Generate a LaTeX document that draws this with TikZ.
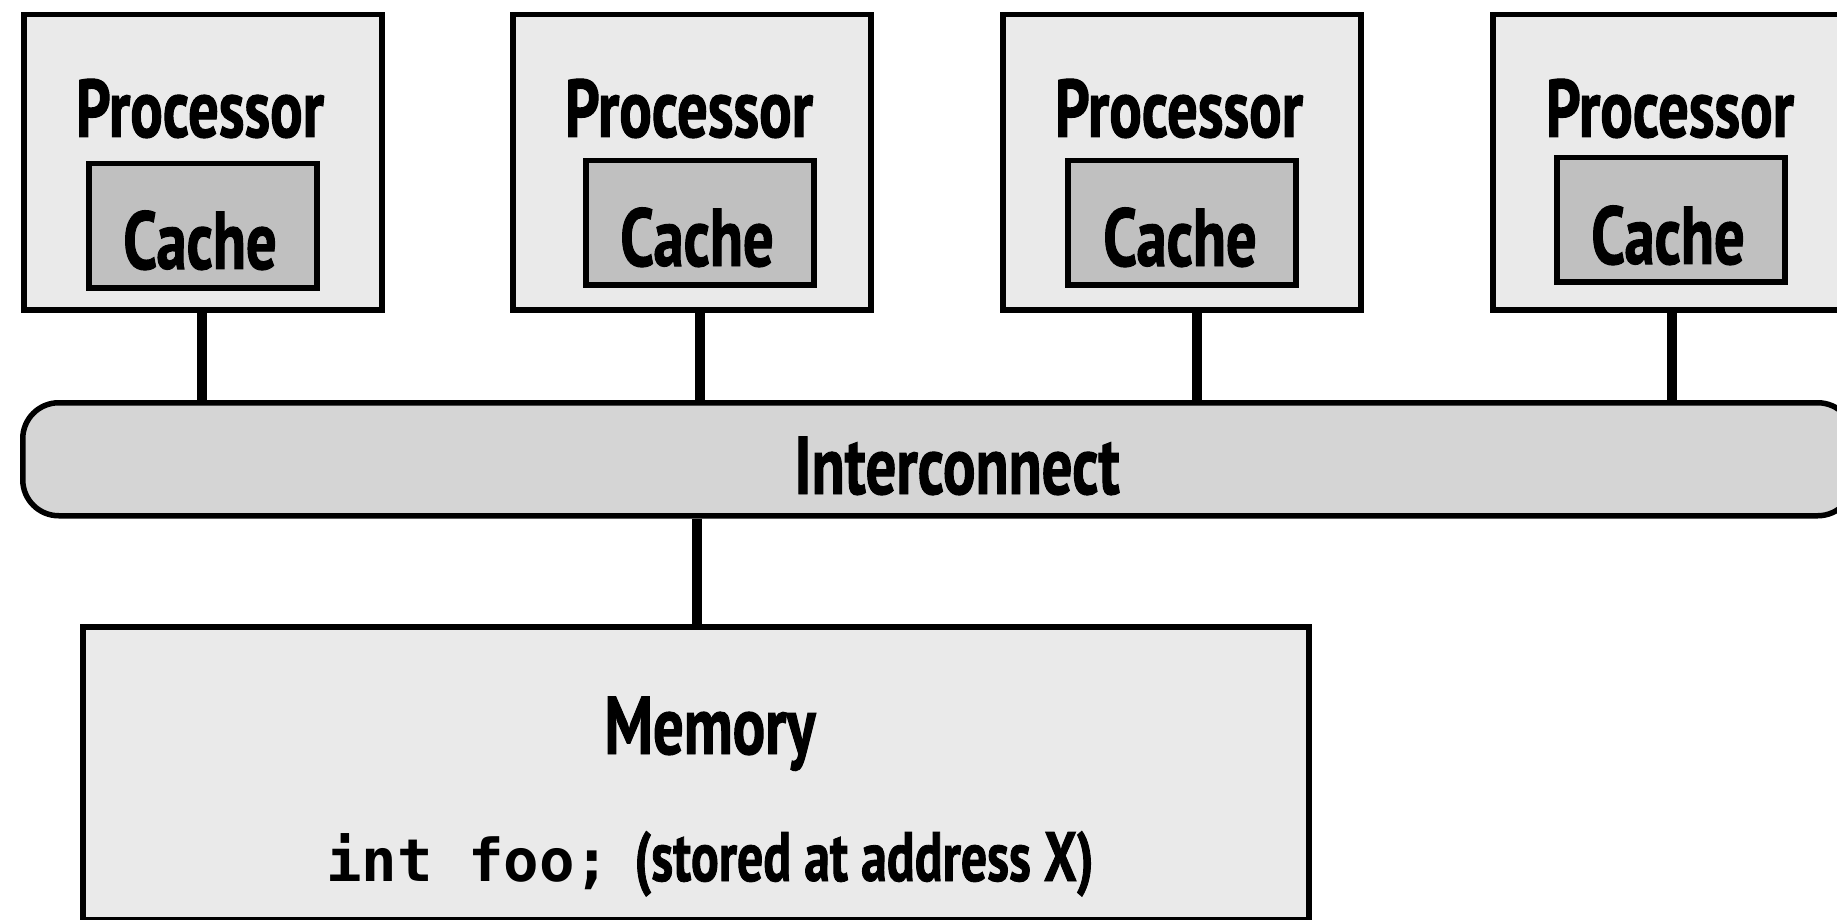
\documentclass[tikz,border=0pt]{standalone}
\usepackage{fontspec}
\setmainfont{PT Sans}[FakeStretch=0.74,BoldFeatures={FakeBold=1.2}]
\newfontfamily\codefont{DejaVu Sans Mono}
\definecolor{procfill}{HTML}{EAEAEA}
\definecolor{cachefill}{HTML}{C0C0C0}
\definecolor{icfill}{HTML}{D5D5D5}
\begin{document}
\begin{tikzpicture}[x=1pt,y=-1pt,line width=5.5pt,
  procbox/.style={draw=black,fill=procfill,anchor=north west,minimum width=358pt,minimum height=295pt,inner sep=0pt},
  cachebox/.style={draw=black,fill=cachefill,anchor=north west,minimum width=228pt,minimum height=124pt,inner sep=0pt},
  lbl/.style={anchor=base,inner sep=0pt,font=\fontsize{82}{90}\selectfont\bfseries},
  wire/.style={draw=black,line width=10pt}]
\useasboundingbox (0,0) rectangle (1837,920);
% processors
\node[procbox] (p1) at (21,12) {};
\node[procbox] (p2) at (510,12) {};
\node[procbox] (p3) at (1000,12) {};
\node[procbox] (p4) at (1490,12) {};
% caches
\node[cachebox] (c1) at (86,161) {};
\node[cachebox] (c2) at (583,158) {};
\node[cachebox] (c3) at (1065,158) {};
\node[cachebox] (c4) at (1554,155) {};
% labels
\node[lbl] (t1) at (200,137) {Processor};
\node[lbl] (t2) at (689,137) {Processor};
\node[lbl] (t3) at (1179,137) {Processor};
\node[lbl] (t4) at (1670,137) {Processor};
\node[lbl] (k1) at (200,269) {Cache};
\node[lbl] (k2) at (697,266) {Cache};
\node[lbl] (k3) at (1180,266) {Cache};
\node[lbl] (k4) at (1668,264) {Cache};
% interconnect
\node[draw=black,fill=icfill,rounded corners=36pt,anchor=north west,minimum width=1831pt,minimum height=113pt,inner sep=0pt] (ic) at (20,400) {};
\node[lbl] (ict) at (957,494) {Interconnect};
% memory
\node[draw=black,fill=procfill,anchor=north west,minimum width=1226pt,minimum height=293pt,inner sep=0pt] (mem) at (80,624) {};
\node[lbl] (memt) at (710,754) {Memory};
\node[anchor=base,inner sep=0pt] (code) at (710,881) {{\codefont\fontsize{59}{64}\selectfont\bfseries int foo;}\hspace{24pt}{\fontsize{70}{78}\selectfont\bfseries(stored at address X)}};
% connectors
\draw[wire] ([xshift=-1pt]p1.south) -- ([xshift=-1pt]p1.south |- ic.north);
\draw[wire] ([xshift=8pt]p2.south) -- ([xshift=8pt]p2.south |- ic.north);
\draw[wire] ([xshift=15pt]p3.south) -- ([xshift=15pt]p3.south |- ic.north);
\draw[wire] (p4.south) -- (p4.south |- ic.north);
\draw[wire] (ic.south -| 697,0) -- (mem.north -| 697,0);
\end{tikzpicture}
\end{document}
